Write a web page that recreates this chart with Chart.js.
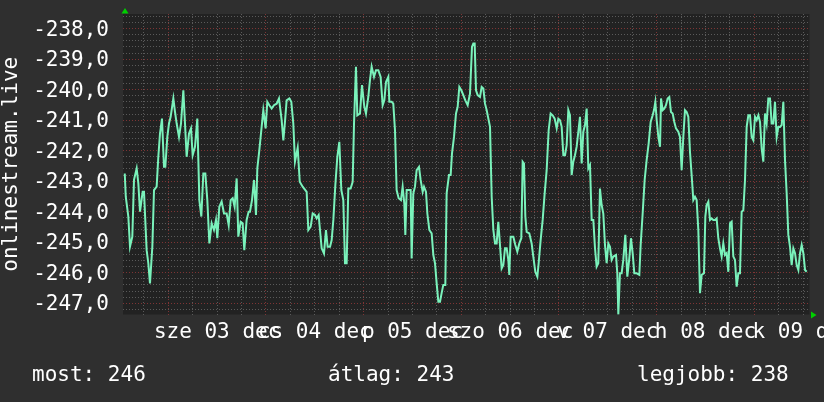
<!DOCTYPE html>
<html>
<head>
<meta charset="utf-8">
<script src="https://cdn.jsdelivr.net/npm/chart.js@4/dist/chart.umd.min.js"></script>
<style>
  html, body { margin: 0; padding: 0; background: #2f2f2f; }
  #wrap { width: 824px; height: 402px; }
  canvas { display: block; }
</style>
</head>
<body>
<div id="wrap"><canvas id="c" width="824" height="402"></canvas></div>
<script>
// ---- data (hours from Wed 03 Dec 00:00) ----
const hours = [
  -10.70, -10.45, -9.82, -9.41, -8.84, -8.43, -7.77, -7.36, -6.95, -6.30,
  -5.97, -5.32, -4.91, -4.50, -3.92, -3.51, -2.86, -2.45, -2.04, -1.55,
  -1.06, -0.73, -0.24, 0.17, 0.58, 1.24, 1.65, 2.06, 2.63, 3.12,
  3.70, 4.51, 5.09, 5.58, 5.99, 6.56, 7.13, 7.63, 8.12, 8.61,
  9.10, 9.59, 10.09, 10.66, 11.23, 11.72, 12.05, 12.54, 13.11, 13.69,
  14.34, 14.84, 15.33, 15.82, 16.30, 16.80, 17.21, 17.78, 18.27, 18.68,
  19.25, 19.74, 20.07, 20.57, 21.06, 21.55, 21.88, 22.37, 22.94, 23.35,
  23.92, 24.33, 24.83, 25.40, 25.97, 26.63, 27.20, 27.86, 28.27, 28.67,
  29.08, 29.74, 30.23, 30.72, 31.13, 31.80, 32.30,
  33.02, 34.00, 34.41, 34.99, 35.48, 36.05, 36.46, 36.95, 37.28, 37.69,
  38.26, 38.75, 39.16, 39.74, 40.15, 40.56, 41.05, 41.54, 42.03, 42.52,
  43.01, 43.42, 43.83, 44.24, 44.81, 45.31, 45.64, 46.12, 46.45, 47.11,
  47.60, 48.17, 48.58, 49.15, 49.56, 49.97, 50.55, 51.04, 51.61, 52.18,
  52.68, 53.09, 53.50, 54.07, 54.32, 54.89, 55.29, 55.71, 56.11, 56.61,
  57.18, 57.59, 58.00, 58.25, 58.58, 59.15, 59.56, 59.80, 60.21, 60.62,
  61.03, 61.61, 62.01, 62.51, 62.84, 63.33, 63.66, 64.15, 64.72, 65.13,
  65.54, 65.95, 66.36, 66.77, 67.17, 67.58, 68.08, 68.40, 68.98, 69.39,
  69.72, 70.21, 70.70, 71.11, 71.52, 72.01, 72.50, 72.99, 73.57, 74.14,
  74.63, 74.96, 75.29, 75.62, 76.02, 76.60,
  77.01, 77.42, 77.83, 78.24, 78.65, 79.06, 79.47, 79.88, 80.29, 80.69,
  81.10, 81.51, 81.92, 82.33, 82.74, 83.15, 83.56, 83.80, 84.13, 84.79,
  85.28, 85.77, 86.26, 86.75, 87.08, 87.41, 87.74, 88.07, 88.72, 89.29,
  89.70, 90.19, 90.69, 91.01, 91.50, 92.00, 92.49, 92.98, 93.47, 93.96,
  94.45, 94.95, 95.44, 95.85, 96.26, 96.67, 97.08, 97.49, 97.90, 98.30,
  98.71, 99.12, 99.53, 99.94, 100.35, 100.76, 101.17, 101.58, 101.99, 102.40,
  102.81, 103.22, 103.63, 104.04, 104.45, 104.86, 105.26, 105.67, 106.08, 106.49,
  106.90, 107.31, 107.72, 108.13, 108.54, 108.95, 109.36, 110.02, 110.34, 110.59,
  110.99, 111.40, 111.81, 112.31, 112.80, 113.29, 113.70, 114.11, 114.52, 115.10,
  115.75, 116.08, 116.57, 117.06, 117.55, 118.05, 118.54, 119.03, 119.36, 119.69,
  120.02, 120.43, 120.84,
  121.08, 121.49, 121.89, 122.30, 122.71, 123.12, 123.53, 123.94, 124.35, 124.76,
  125.33, 125.74, 126.15, 126.56, 126.97, 127.38, 127.79, 128.20, 128.61, 129.02,
  129.43, 129.84, 130.25, 130.66, 131.07, 131.64, 131.97, 132.30, 132.71, 133.12,
  133.53, 133.93, 134.34, 134.75, 135.16, 135.57, 135.98, 136.39, 136.80, 137.21,
  137.62, 138.03, 138.44, 138.85, 139.26, 139.67, 140.08, 140.49, 140.90, 141.31,
  141.72, 142.13, 142.54, 142.95, 143.36, 143.77, 144.18, 144.59, 145.00, 145.41,
  145.82, 146.22, 146.63, 147.04, 147.45, 147.86, 148.27, 148.68, 149.09, 149.50,
  149.91, 150.32, 150.73, 151.14, 151.55, 151.96, 152.37, 152.78, 153.19, 153.60,
  154.01, 154.42, 154.83, 155.24, 155.65, 156.06, 156.47, 156.88
];
const values = [
  -242.75, -243.51, -244.16, -245.15, -244.82, -242.96, -242.58, -243.07, -244.00, -243.35,
  -243.35, -245.26, -245.69, -246.35, -245.15, -243.29, -243.18, -242.20, -241.44, -240.95,
  -242.53, -242.53, -241.55, -241.11, -240.89, -240.29, -240.73, -241.11, -241.55, -241.11,
  -240.02, -242.20, -241.44, -241.27, -242.15, -241.87, -240.95, -243.62, -244.16, -242.75,
  -242.75, -243.62, -245.04, -244.38, -244.60, -244.27, -244.87, -243.84, -243.67, -244.06,
  -244.06, -244.44, -243.62, -243.56, -243.84, -242.91, -244.82, -244.33, -244.38, -245.26,
  -244.27, -244.00, -244.00, -243.62, -242.96, -244.11, -242.58, -241.98, -241.22, -240.67,
  -241.27, -240.40, -240.51, -240.62, -240.51, -240.46, -240.29, -241.00, -241.66, -241.06,
  -240.35, -240.29, -240.40, -241.11, -242.36, -241.90, -243.02,
  -243.18, -243.35, -244.60, -244.49, -244.06, -244.11, -244.22, -244.11, -244.60, -245.20,
  -245.37, -244.60, -245.15, -245.15, -244.93, -244.27, -243.13, -242.20, -241.71, -243.29,
  -243.62, -245.69, -245.69, -243.24, -243.24, -243.02, -241.11, -239.25, -240.84, -240.78,
  -239.85, -240.56, -240.78, -240.24, -239.69, -239.25, -239.58, -239.36, -239.36, -239.58,
  -240.51, -240.35, -239.75, -239.58, -240.40, -240.40, -240.46, -241.33, -243.29, -243.56,
  -243.62, -243.18, -243.73, -244.76, -243.29, -243.29, -243.29, -245.53, -243.40, -243.18,
  -242.64, -242.53, -242.96, -243.35, -243.18, -243.35, -244.06, -244.60, -244.71, -245.42,
  -245.69, -246.35, -246.95, -246.95, -246.67, -246.40, -246.40, -243.40, -242.80, -242.80,
  -242.09, -241.55, -240.78, -240.56, -239.91, -240.02, -240.18, -240.35, -240.51, -240.13,
  -238.60, -238.49, -238.49, -240.02, -240.18, -240.24,
  -239.91, -239.96, -240.46, -240.67, -240.95, -241.22, -243.51, -244.60, -245.04, -245.04,
  -244.33, -245.09, -245.86, -245.75, -245.20, -245.20, -245.58, -246.07, -244.82, -244.82,
  -245.09, -245.31, -245.04, -244.87, -242.36, -242.42, -244.16, -244.66, -244.71, -245.04,
  -245.47, -245.97, -246.13, -245.69, -244.93, -244.27, -243.40, -242.64, -241.33, -240.78,
  -240.84, -240.95, -241.27, -240.95, -241.00, -241.22, -242.15, -242.15, -241.82, -240.67,
  -240.84, -242.80, -242.36, -242.15, -241.87, -241.38, -240.89, -242.42, -241.38, -241.16,
  -240.62, -242.58, -242.47, -244.27, -244.27, -245.20, -245.80, -245.69, -243.24, -243.78,
  -244.06, -245.09, -245.69, -245.04, -245.15, -245.58, -245.47, -245.42, -246.02, -247.38,
  -246.02, -246.02, -245.58, -244.76, -246.13, -245.53, -244.87, -245.36, -246.02, -246.02,
  -246.07, -245.09, -244.06, -242.96, -242.31, -241.76, -241.06, -240.84, -240.67, -240.40,
  -241.00, -241.55, -241.87,
  -240.29, -240.67, -240.62, -240.51, -240.29, -240.24, -240.73, -240.78, -241.06, -241.27,
  -241.38, -241.55, -242.64, -241.55, -240.67, -240.73, -240.89, -242.04, -242.80, -243.62,
  -243.51, -243.62, -244.60, -246.67, -246.07, -246.02, -244.16, -243.78, -243.67, -244.27,
  -244.22, -244.27, -244.27, -244.22, -244.87, -245.20, -245.47, -245.04, -245.42, -245.36,
  -245.97, -244.38, -244.33, -245.47, -245.58, -246.46, -246.02, -246.02, -244.00, -243.95,
  -242.96, -241.22, -240.84, -240.84, -241.55, -241.66, -240.89, -241.00, -240.84, -241.06,
  -241.93, -242.36, -240.78, -241.11, -240.29, -240.29, -241.11, -241.11, -240.40, -241.55,
  -241.22, -241.22, -241.16, -240.40, -242.31, -243.40, -244.76, -245.15, -245.75, -245.20,
  -245.36, -245.75, -245.91, -245.36, -245.09, -245.36, -245.91, -245.97
];

// ---- tick labels ----
const dayLabelHours = [12, 36, 60, 84, 108, 132, 156];
const dayLabels = ['sze 03 dec', 'cs 04 dec', 'p 05 dec', 'szo 06 dec', 'v 07 dec', 'h 08 dec', 'k 09 dec'];
const yLabelValues = [-238, -239, -240, -241, -242, -243, -244, -245, -246, -247];
const yTitle = 'onlinestream.live';

// ---- summary line ----
const summaryLabels = ['most:', 'átlag:', 'legjobb:'];
const summaryValues = [246, 243, 238];

// ---- styling / layout ----
const FONT = '"DejaVu Sans Mono", monospace';
const FONT_SIZE = 21;
const BG = '#2f2f2f';
const PLOT_BG = '#222222';
const LINE = '#7af2bb';
const GRID_MINOR = '#5a5a5a';
const GRID_MAJOR = '#7e3434';
const ARROW = '#00d000';

const X_MIN = -11.13, X_MAX = 157.57;
const Y_MIN = -247.37, Y_MAX = -237.52;

// grid positions (every 6 h, every 0.2 units)
const xGrid = [];
for (let h = -6; h <= 156; h += 6) xGrid.push(h);
const yGrid = [];
for (let k = -1236; k <= -1188; k++) yGrid.push(Math.round(k * 2) / 10);

const isInt = v => Math.abs(v - Math.round(v)) < 1e-6;
const fmtY = v => v.toFixed(1).replace('.', ',');

Chart.defaults.font.family = FONT;
Chart.defaults.font.size = FONT_SIZE;
Chart.defaults.color = '#ffffff';

const decorPlugin = {
  id: 'decor',
  beforeDraw(chart) {
    const { ctx, chartArea: a } = chart;
    ctx.save();
    ctx.fillStyle = BG;
    ctx.fillRect(0, 0, chart.width, chart.height);
    ctx.fillStyle = PLOT_BG;
    ctx.fillRect(a.left, a.top, a.right - a.left, a.bottom - a.top);
    ctx.restore();
  },
  afterDraw(chart) {
    const { ctx, chartArea: a } = chart;
    ctx.save();
    ctx.fillStyle = ARROW;
    // up arrow at top of y axis
    ctx.beginPath();
    ctx.moveTo(a.left + 2, a.top - 6);
    ctx.lineTo(a.left + 5.5, a.top - 0.5);
    ctx.lineTo(a.left - 1.5, a.top - 0.5);
    ctx.closePath();
    ctx.fill();
    // right arrow at end of x axis
    ctx.beginPath();
    ctx.moveTo(a.right + 7, a.bottom + 0.5);
    ctx.lineTo(a.right + 1.5, a.bottom - 3);
    ctx.lineTo(a.right + 1.5, a.bottom + 4);
    ctx.closePath();
    ctx.fill();
    // summary
    ctx.fillStyle = '#ffffff';
    ctx.font = FONT_SIZE + 'px ' + FONT;
    ctx.textBaseline = 'alphabetic';
    ctx.textAlign = 'left';
    const xs = [32, 328, 637];
    summaryLabels.forEach((lab, i) => {
      ctx.fillText(lab + ' ' + summaryValues[i], xs[i], 381);
    });
    ctx.restore();
  }
};

new Chart(document.getElementById('c'), {
  type: 'line',
  data: {
    datasets: [{
      data: hours.map((h, i) => ({ x: h, y: values[i] })),
      borderColor: LINE,
      borderWidth: 2,
      pointRadius: 0,
      tension: 0,
      fill: false
    }]
  },
  options: {
    responsive: false,
    animation: false,
    devicePixelRatio: 1,
    layout: { padding: { left: 0, top: 14, right: 14.5, bottom: 52 } },
    plugins: { legend: { display: false }, tooltip: { enabled: false }, title: { display: false } },
    scales: {
      x: {
        type: 'linear',
        min: X_MIN,
        max: X_MAX,
        afterBuildTicks(axis) { axis.ticks = xGrid.map(v => ({ value: v })); },
        afterFit(s) { s.height = 35.5; s.paddingLeft = 0; s.paddingRight = 0; },
        ticks: {
          autoSkip: false, maxRotation: 0, minRotation: 0, padding: 5.5, color: '#ffffff',
          callback: v => { const i = dayLabelHours.indexOf(v); return i >= 0 ? dayLabels[i] : ''; }
        },
        grid: {
          drawTicks: false, lineWidth: 1,
          color: c => (c.tick && c.tick.value % 24 === 0) ? GRID_MAJOR : GRID_MINOR
        },
        border: { display: false, dash: [1, 2] }
      },
      y: {
        type: 'linear',
        min: Y_MIN,
        max: Y_MAX,
        afterBuildTicks(axis) { axis.ticks = yGrid.map(v => ({ value: v })); },
        afterFit(s) { s.width = 123; s.paddingTop = 0; s.paddingBottom = 0; },
        ticks: {
          autoSkip: false, padding: 14, labelOffset: 1.5, color: '#ffffff',
          callback: v => (isInt(v) && yLabelValues.includes(Math.round(v))) ? fmtY(v) : ''
        },
        grid: {
          drawTicks: false, lineWidth: 1,
          color: c => (c.tick && isInt(c.tick.value)) ? GRID_MAJOR : GRID_MINOR
        },
        border: { display: false, dash: [1, 2] },
        title: { display: true, text: yTitle, color: '#ffffff', padding: { top: -1.5, bottom: 0 } }
      }
    }
  },
  plugins: [decorPlugin]
});
</script>
</body>
</html>
